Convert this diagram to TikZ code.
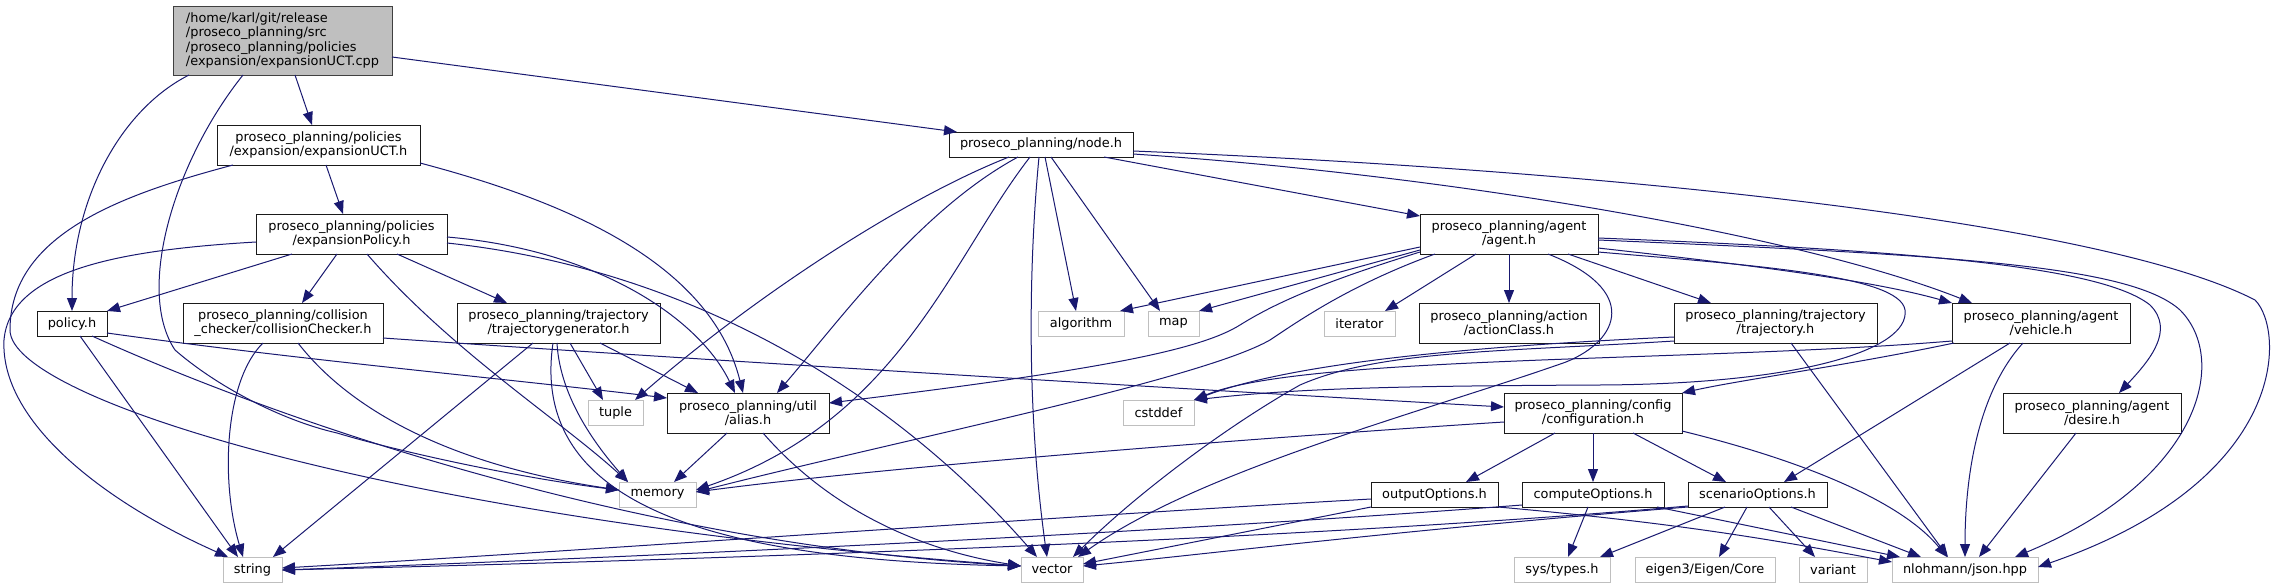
\documentclass[tikz,border=0pt]{standalone}
\usepackage{fontspec}
\setmainfont{DejaVu Sans}
\usetikzlibrary{arrows.meta}
\definecolor{edgecol}{HTML}{191970}
\definecolor{sysgray}{HTML}{BFBFBF}
\definecolor{rootfill}{HTML}{BFBFBF}
\definecolor{rootdraw}{HTML}{404040}
\definecolor{boxdraw}{HTML}{1A1A1A}
\begin{document}
\begin{tikzpicture}[x=1pt,y=-1pt,
  box/.style={draw=boxdraw,fill=white,line width=0.9pt,inner sep=0pt,outer sep=0pt,align=center,
    font=\fontsize{12.9}{14.6}\selectfont},
  sysbox/.style={box,draw=sysgray},
  rootbox/.style={box,fill=rootfill,draw=rootdraw,align=left},
  inc/.style={draw=edgecol,line width=1pt,-{Triangle[length=13pt,width=10pt]}}]
\useasboundingbox (0,0) rectangle (2275,588);
\fill[white] (0,0) rectangle (2275,588);
% nodes
\node[rootbox,minimum width=219pt,minimum height=69pt] (root) at (282.5,40.5) {/home/karl/git/release\\/proseco\_planning/src\\/proseco\_planning/policies\\/expansion/expansionUCT.cpp};
\node[box,minimum width=203pt,minimum height=40pt] (expUCT) at (318.5,145) {proseco\_planning/policies\\/expansion/expansionUCT.h};
\node[box,minimum width=191pt,minimum height=40pt] (expPol) at (351.5,234) {proseco\_planning/policies\\/expansionPolicy.h};
\node[box,minimum width=70pt,minimum height=25pt] (policy) at (72,323.5) {policy.h};
\node[box,minimum width=200pt,minimum height=40pt] (collision) at (283,323) {proseco\_planning/collision\\\_checker/collisionChecker.h};
\node[box,minimum width=203pt,minimum height=40pt] (trajgen) at (558.5,323) {proseco\_planning/trajectory\\/trajectorygenerator.h};
\node[sysbox,minimum width=59pt,minimum height=25pt] (string) at (252.5,569.5) {string};
\node[box,minimum width=184pt,minimum height=25pt] (node) at (1041,144.5) {proseco\_planning/node.h};
\node[box,minimum width=178pt,minimum height=40pt] (agent) at (1509,234) {proseco\_planning/agent\\/agent.h};
\node[sysbox,minimum width=55pt,minimum height=25pt] (tuple) at (615.5,412.5) {tuple};
\node[box,minimum width=162pt,minimum height=40pt] (alias) at (748,413) {proseco\_planning/util\\/alias.h};
\node[sysbox,minimum width=77pt,minimum height=25pt] (memory) at (657.5,494.5) {memory};
\node[sysbox,minimum width=62pt,minimum height=25pt] (vector) at (1052,569.5) {vector};
\node[sysbox,minimum width=86pt,minimum height=25pt] (algorithm) at (1081,323.5) {algorithm};
\node[sysbox,minimum width=51pt,minimum height=25pt] (map) at (1173.5,323.5) {map};
\node[sysbox,minimum width=71pt,minimum height=25pt] (iterator) at (1359.5,323.5) {iterator};
\node[box,minimum width=180pt,minimum height=40pt] (actionClass) at (1509,323) {proseco\_planning/action\\/actionClass.h};
\node[box,minimum width=203pt,minimum height=40pt] (trajectory) at (1775.5,323) {proseco\_planning/trajectory\\/trajectory.h};
\node[box,minimum width=178pt,minimum height=40pt] (vehicle) at (2041,323) {proseco\_planning/agent\\/vehicle.h};
\node[sysbox,minimum width=71pt,minimum height=25pt] (cstddef) at (1158.5,412.5) {cstddef};
\node[box,minimum width=178pt,minimum height=40pt] (configuration) at (1593,413) {proseco\_planning/config\\/configuration.h};
\node[box,minimum width=178pt,minimum height=40pt] (desire) at (2092,413) {proseco\_planning/agent\\/desire.h};
\node[box,minimum width=127pt,minimum height=25pt] (output) at (1434.5,494.5) {outputOptions.h};
\node[box,minimum width=142pt,minimum height=25pt] (compute) at (1593,494.5) {computeOptions.h};
\node[box,minimum width=139pt,minimum height=25pt] (scenario) at (1757.5,494.5) {scenarioOptions.h};
\node[sysbox,minimum width=96pt,minimum height=25pt] (systypes) at (1562,569.5) {sys/types.h};
\node[sysbox,minimum width=140pt,minimum height=25pt] (eigen) at (1705,569.5) {eigen3/Eigen/Core};
\node[sysbox,minimum width=68pt,minimum height=25pt] (variant) at (1833,569.5) {variant};
\node[sysbox,minimum width=146pt,minimum height=25pt] (json) at (1965,569.5) {nlohmann/json.hpp};
% root
\draw[inc] ([xshift=122pt]root.south west) -- ([xshift=95pt]expUCT.north west);
\draw[inc] ([yshift=-51pt]root.north east) -- ([xshift=8pt]node.north west);
\draw[inc] ([xshift=16pt]root.south west) .. controls (120,110) and (72,200) .. ([xshift=35pt]policy.north west);
\draw[inc] ([xshift=70pt]root.south west) .. controls (175,160) and (135,290) .. (175,350) .. controls (215,385) and (280,420) .. (337,433) .. controls (400,452) and (520,478) .. ([yshift=-8pt]memory.north west);
% expUCT
\draw[inc] ([xshift=109pt]expUCT.south west) -- ([xshift=87pt]expPol.north west);
\draw[inc] ([xshift=16pt]expUCT.south west) .. controls (120,195) and (10,235) .. (10,330) .. controls (10,400) and (400,520) .. ([yshift=-9pt]vector.north west);
\draw[inc] ([yshift=-38pt]expUCT.north east) .. controls (560,200) and (710,260) .. ([xshift=76pt]alias.north west);
% expPol
\draw[inc] ([xshift=36pt]expPol.south west) -- (policy.north east);
\draw[inc] ([xshift=81pt]expPol.south west) -- ([xshift=119pt]collision.north west);
\draw[inc] ([xshift=111pt]expPol.south west) .. controls (450,350) and (560,420) .. ([xshift=9pt]memory.north west);
\draw[inc] ([xshift=141pt]expPol.south west) -- ([xshift=50pt]trajgen.north west);
\draw[inc] ([yshift=-28pt]expPol.north west) .. controls (120,250) and (10,270) .. (4,340) .. controls (0,420) and (100,500) .. ([xshift=5pt]string.north west);
\draw[inc] ([yshift=-23pt]expPol.north east) .. controls (600,250) and (700,320) .. ([xshift=68pt]alias.north west);
\draw[inc] ([yshift=-29pt]expPol.north east) .. controls (700,270) and (900,400) .. ([xshift=16pt]vector.north west);
% policy
\draw[inc] ([xshift=43pt]policy.south west) -- ([xshift=15pt]string.north west);
\draw[inc] ([xshift=55pt]policy.south west) .. controls (300,430) and (650,545) .. ([yshift=-9pt]vector.north west);
\draw[inc] ([yshift=-22pt]policy.north east) .. controls (300,360) and (500,378) .. ([yshift=-5pt]alias.north west);
% collision
\draw[inc] ([xshift=80pt]collision.south west) .. controls (225,380) and (220,480) .. ([xshift=20pt]string.north west);
\draw[inc] ([xshift=115pt]collision.south west) .. controls (350,410) and (450,465) .. ([yshift=-8pt]memory.north west);
\draw[inc] ([yshift=-35pt]collision.north east) .. controls (700,360) and (1200,390) .. ([yshift=-14pt]configuration.north west);
% trajgen
\draw[inc] ([xshift=76pt]trajgen.south west) -- ([xshift=50pt]string.north west);
\draw[inc] ([xshift=113pt]trajgen.south west) -- ([xshift=15pt]tuple.north west);
\draw[inc] ([xshift=143pt]trajgen.south west) -- ([xshift=31pt]alias.north west);
\draw[inc] ([xshift=100pt]trajgen.south west) .. controls (560,400) and (600,450) .. ([xshift=9pt]memory.north west);
\draw[inc] ([xshift=96pt]trajgen.south west) .. controls (530,500) and (700,560) .. ([yshift=-9pt]vector.north west);
% alias
\draw[inc] ([xshift=60pt]alias.south west) -- ([xshift=55pt]memory.north west);
\draw[inc] ([xshift=96pt]alias.south west) .. controls (830,510) and (920,550) .. ([yshift=-9pt]vector.north west);
% node
\draw[inc] ([xshift=155pt]node.south west) -- ([yshift=-2pt]agent.north west);
\draw[inc] ([yshift=-22pt]node.north east) .. controls (1450,175) and (1800,235) .. ([xshift=20pt]vehicle.north west);
\draw[inc] ([yshift=-19pt]node.north east) .. controls (1600,170) and (2100,220) .. (2255,300) .. controls (2285,330) and (2290,480) .. ([yshift=-10pt]json.north east);
\draw[inc] ([xshift=60pt]node.south west) .. controls (900,200) and (750,300) .. ([xshift=-8pt]tuple.north east);
\draw[inc] ([xshift=69pt]node.south west) .. controls (920,210) and (840,320) .. ([xshift=110pt]alias.north west);
\draw[inc] ([xshift=81pt]node.south west) .. controls (950,260) and (900,420) .. ([yshift=-8pt]memory.north east);
\draw[inc] ([xshift=90pt]node.south west) .. controls (1030,250) and (1025,400) .. ([xshift=26pt]vector.north west);
\draw[inc] ([xshift=96pt]node.south west) -- ([xshift=38pt]algorithm.north west);
\draw[inc] ([xshift=102pt]node.south west) -- ([xshift=12pt]map.north west);
% agent
\draw[inc] ([yshift=-33pt]agent.north west) -- ([xshift=-4pt]algorithm.north east);
\draw[inc] ([yshift=-36pt]agent.north west) -- (map.north east);
\draw[inc] ([yshift=-38pt]agent.north west) .. controls (1330,280) and (1280,300) .. (1240,325) .. controls (1200,350) and (1100,370) .. ([yshift=-10pt]alias.north east);
\draw[inc] ([xshift=15pt]agent.south west) .. controls (1350,285) and (1300,320) .. (1270,340) .. controls (1200,380) and (900,440) .. ([yshift=-10pt]memory.north east);
\draw[inc] ([xshift=56pt]agent.south west) -- ([xshift=-10pt]iterator.north east);
\draw[inc] (agent.south) -- (actionClass.north);
\draw[inc] ([xshift=128pt]agent.south west) .. controls (1640,290) and (1620,340) .. (1566,362) .. controls (1430,410) and (1200,470) .. ([xshift=-5pt]vector.north east);
\draw[inc] ([xshift=148pt]agent.south west) -- ([xshift=37pt]trajectory.north west);
\draw[inc] ([yshift=-34pt]agent.north east) .. controls (1750,265) and (1870,280) .. (vehicle.north west);
\draw[inc] ([yshift=-24pt]agent.north east) .. controls (1900,250) and (2100,265) .. (2150,305) .. controls (2175,330) and (2150,360) .. ([xshift=116pt]desire.north west);
\draw[inc] ([yshift=-26pt]agent.north east) .. controls (1950,255) and (2130,265) .. (2180,310) .. controls (2230,360) and (2200,480) .. ([xshift=-23pt]json.north east);
\draw[inc] ([yshift=-38pt]agent.north east) .. controls (1750,265) and (1900,275) .. (1905,310) .. controls (1910,350) and (1800,384) .. (1600,385) .. controls (1400,386) and (1300,388) .. (cstddef.north east);
% trajectory
\draw[inc] ([xshift=117pt]trajectory.south west) -- ([xshift=56pt]json.north west);
\draw[inc] ([yshift=-38pt]trajectory.north west) .. controls (1500,352) and (1380,350) .. (1300,385) .. controls (1220,430) and (1130,500) .. ([xshift=-10pt]vector.north east);
\draw[inc] ([yshift=-34pt]trajectory.north west) .. controls (1500,345) and (1300,360) .. (cstddef.north east);
% vehicle
\draw[inc] ([yshift=-38pt]vehicle.north west) .. controls (1700,362) and (1300,355) .. (cstddef.north east);
\draw[inc] ([xshift=2pt]vehicle.south west) .. controls (1850,365) and (1740,380) .. (configuration.north east);
\draw[inc] ([xshift=58pt]vehicle.south west) -- ([xshift=96pt]scenario.north west);
\draw[inc] ([xshift=71pt]vehicle.south west) .. controls (1980,390) and (1965,470) .. ([xshift=73pt]json.north west);
% desire
\draw[inc] ([xshift=73pt]desire.south west) -- ([xshift=87pt]json.north west);
% configuration
\draw[inc] ([yshift=-29pt]configuration.north west) .. controls (1300,435) and (900,465) .. ([yshift=-10pt]memory.north east);
\draw[inc] ([xshift=51pt]configuration.south west) -- ([xshift=95pt]output.north west);
\draw[inc] (configuration.south) -- (compute.north);
\draw[inc] ([xshift=129pt]configuration.south west) -- ([xshift=38pt]scenario.north west);
\draw[inc] ([yshift=-38pt]configuration.north east) .. controls (1800,460) and (1900,500) .. ([xshift=55pt]json.north west);
% outputOptions
\draw[inc] ([yshift=-17pt]output.north west) .. controls (1000,520) and (600,550) .. ([yshift=-11pt]string.north east);
\draw[inc] (output.south west) -- ([yshift=-7pt]vector.north east);
\draw[inc] (output.south east) .. controls (1700,525) and (1800,545) .. ([yshift=-5pt]json.north west);
% computeOptions
\draw[inc] ([xshift=66pt]compute.south west) -- ([xshift=54pt]systypes.north west);
\draw[inc] ([xshift=135pt]compute.south west) -- ([xshift=8pt]json.north west);
\draw[inc] ([yshift=-23pt]compute.north west) .. controls (1200,530) and (700,555) .. ([yshift=-13pt]string.north east);
% scenarioOptions
\draw[inc] ([yshift=-24pt]scenario.north west) .. controls (1300,540) and (700,560) .. ([yshift=-13pt]string.north east);
\draw[inc] ([yshift=-25pt]scenario.north west) .. controls (1400,530) and (1200,555) .. ([yshift=-9pt]vector.north east);
\draw[inc] ([xshift=37pt]scenario.south west) -- ([xshift=86pt]systypes.north west);
\draw[inc] ([xshift=59pt]scenario.south west) -- ([xshift=84pt]eigen.north west);
\draw[inc] ([xshift=81pt]scenario.south west) -- ([xshift=16pt]variant.north west);
\draw[inc] ([xshift=103pt]scenario.south west) -- ([xshift=29pt]json.north west);
\end{tikzpicture}
\end{document}
